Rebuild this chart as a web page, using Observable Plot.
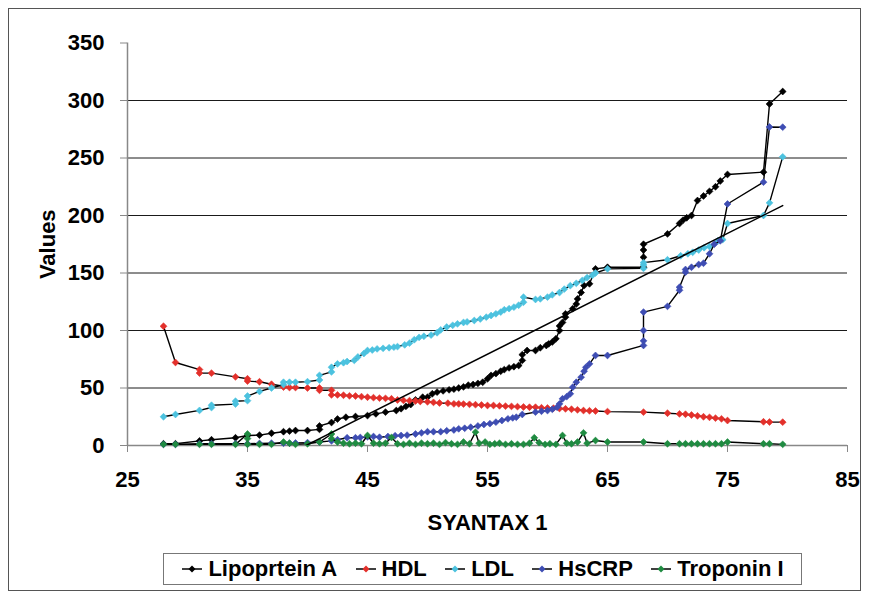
<!DOCTYPE html>
<html><head><meta charset="utf-8">
<script src="https://cdn.jsdelivr.net/npm/d3@7"></script>
<script src="https://cdn.jsdelivr.net/npm/@observablehq/plot@0.6"></script>
<style>
body{margin:0;background:#fff;}
#wrap{position:relative;width:871px;height:597px;overflow:hidden;font-family:"Liberation Sans",Arial,sans-serif;}
#frame{position:absolute;left:8px;top:8px;width:853px;height:583px;border:1px solid #555;box-sizing:border-box;}
#chart{position:absolute;left:0;top:0;}
#legend{position:absolute;left:163px;top:553px;width:639px;height:32px;border:1px solid #777;box-sizing:border-box;display:flex;align-items:center;justify-content:space-evenly;font-weight:bold;font-size:22px;}
.item{display:flex;align-items:center;white-space:nowrap;gap:5px;}
</style></head><body>
<div id="wrap"><div id="frame"></div><div id="chart"></div><div id="legend"></div></div>
<script>
// ---- data ----
const seriesNames = ["Lipoprtein A", "HDL", "LDL", "HsCRP", "Troponin I"];
const seriesColors = ["#000000", "#e3302b", "#4cc2df", "#3e4db3", "#1f8b41"];
const xTicks = [25, 35, 45, 55, 65, 75, 85];
const yTicks = [0, 50, 100, 150, 200, 250, 300, 350];
const gridValues = [50, 100, 150, 200, 250, 300];

const lipoproteinA = [[28,1.5],[29,1.5],[31,4],[32,5],[34,6.7],[35,8.7],[36,9],[37,10.7],[38,12],[38.5,12.5],[39,13],[40,13],[41,14],[41,17],[42,20],[42.5,23],[43.2,24.6],[44,25.2],[45,26],[45.7,27.5],[46.5,29],[47.4,30.4],[47.8,32],[48.2,34],[48.6,35.6],[49,39.7],[49.6,42],[50,42],[50.4,45],[50.8,46.4],[51.3,47.5],[51.8,48.4],[52.2,49],[52.6,50],[53,51],[53.4,52.5],[53.8,53],[54.2,54],[54.6,55],[55,58],[55.3,61],[55.7,62.5],[56.1,64.6],[56.4,66],[56.8,67.5],[57.2,68.5],[57.6,69.6],[57.9,74],[57.9,79],[58.3,82.6],[59,82.6],[59.4,85],[59.9,87],[60.1,88.4],[60.4,90],[60.7,92.8],[61,100],[61,104],[61.25,107],[61.5,111.6],[61.5,114.5],[62.1,119],[62.4,123],[62.5,127.5],[62.8,133],[63.05,139],[63.5,140.6],[64,153.6],[65,155],[68,155],[68,163.7],[68,170],[68,175],[70,184],[71,193],[71.3,196],[71.6,198],[72,200],[72.5,213],[73,217],[73.5,221],[74,225],[74.4,230],[75,235.7],[78,237.7],[78.5,297],[79.6,307.8]];

const hdl = [[28,103.7],[29,72.2],[31,66],[31,63],[32,62.9],[34,59.7],[35,58],[35,56],[36,55.4],[37,53.3],[38,51.5],[38,50.8],[38.5,50.4],[39,50.4],[40,50],[41,50],[41,48],[42,48],[42,44],[42.5,44],[43,43.7],[43.5,43.2],[44,43],[44.5,42.5],[45,42],[45.5,41.6],[46,41.2],[46.5,41],[47,40.6],[47.5,39.6],[48,39.2],[48.5,39],[49,38.7],[49.4,38.3],[50,38],[50.5,37.5],[51,37],[51.7,36.8],[52.2,36.2],[52.6,36.2],[53,36],[53.5,35.8],[54,35.5],[54.5,35.2],[55,34.8],[55.5,34.8],[56,34.5],[56.5,34.2],[57,34],[57.5,33.8],[58,33.5],[58.5,33.3],[59,33.3],[59.5,32.8],[60,32.6],[60.5,32.4],[61,32.2],[61.5,31.9],[62,31.5],[62.5,31],[63,30.4],[63.5,30.2],[64,30],[65,29.5],[68,29],[70,28.1],[71,27.5],[71.5,27.2],[72,26.5],[72.5,25.8],[73,25],[73.5,24.5],[74,23.8],[74.5,23.2],[75,21.7],[78,20.6],[78.5,20.4],[79.6,20.3]];

const ldl = [[28,25],[29,27],[31,30.5],[32,33],[32,35],[34,36],[34,38.5],[35,39],[35,43],[36,47],[37,50],[38,53],[38,55],[38.5,55],[39,55],[40,55.5],[41,57],[41,61],[42,64],[42,68],[42.5,71],[43,72],[43.3,73],[43.9,74],[44.2,77],[44.7,80],[45,82.6],[45.4,83],[45.8,84],[46.3,84.5],[46.8,85],[47.2,85.5],[47.5,86],[48.1,87.5],[48.5,89],[48.9,92],[49.3,94],[49.7,95],[50.3,96],[50.8,98],[51.1,100.5],[51.6,103],[52.1,104.5],[52.5,105.8],[53,107],[53.3,107.5],[53.9,108.7],[54.4,110],[54.9,111.6],[55.3,113],[55.7,114.5],[56.1,116],[56.4,118],[56.8,119],[57.2,120.3],[57.6,122],[58,124.6],[58,129],[59,127],[59.4,127.5],[60,129],[60.4,131],[61,133],[61.4,136],[61.9,139],[62.4,141],[62.9,143.5],[63.3,146],[63.75,148],[64,150],[65,153.6],[68,154],[68,157],[68,159],[70,161.5],[71.1,165],[71.7,166.7],[72.1,168],[72.6,170],[73.05,172],[73.5,173],[74.2,178],[74.6,179],[75,193],[78,200],[78.5,211],[79.6,251]];

const hsCRP = [[28,1],[29,1],[31,1.5],[32,1.5],[34,1.5],[35,1.5],[36,1.8],[37,2],[38,2],[38.5,2],[39,2.2],[40,2.5],[41,3],[42,4],[42.5,5],[43.3,6.7],[44,6.7],[44.4,7],[45,7.5],[45.5,7.8],[46,7.2],[46.7,7.8],[47.3,8.5],[47.8,8.7],[48.3,9],[49,10],[49.5,11],[50,12],[50.5,12],[51.1,12],[51.6,12.8],[52.2,13.5],[52.6,14.5],[53.1,15],[53.6,15.9],[54.2,17],[54.7,18.3],[55.2,19],[55.7,20.3],[56.2,21.7],[56.7,23.2],[57.1,24],[57.4,24.6],[57.9,27],[59,29],[59.5,29.8],[60,30.4],[60.4,31.5],[60.8,33.3],[61,36.2],[61.25,40.6],[61.6,42.5],[61.9,45],[62.1,50.7],[62.4,55],[62.8,59.4],[63.05,64.6],[63.2,68],[63.5,71],[64,78.3],[65,78.3],[68,87],[68,91],[68,100],[68,116],[70,121],[71,135],[71,137.6],[71.5,150.7],[71.5,153],[72,155],[72.6,157.4],[73,158.5],[73.5,166.7],[73.9,175],[74.4,178],[75,210],[78,229],[78.5,277],[79.6,276.8]];

const troponinI = [[28,1],[29,1],[31,1],[32,1],[34,1],[35,10],[35,6],[35,1],[36,1],[37,1],[38,3],[38.5,2],[39,1],[40,1.5],[41,3],[42,10],[42,6],[42.5,3],[43,2],[43.5,1.5],[44,2],[44.5,1.5],[45,8.7],[45.5,2],[46,1.5],[46.5,2],[47,7],[47.5,1.5],[48,1],[48.5,2],[49,1],[49.5,2],[50,1.5],[50.5,2],[51,1],[51.5,2.5],[52,1.5],[52.5,1],[53,3],[53.5,1.5],[54,11.6],[54.3,2],[54.8,3],[55.2,1],[55.6,1.5],[56,2],[56.5,1],[57,1.5],[57.5,1],[58,1],[58.5,2],[58.9,6.7],[59.3,2.5],[59.8,1],[60.2,1.5],[60.7,1],[61.25,8.7],[61.6,2],[62,1.5],[62.5,3],[63,11],[63.3,2],[64,4.3],[65,3],[68,3],[70,1.5],[71,1.5],[71.5,1.5],[72,1.5],[72.5,1.5],[73,1.5],[73.5,1.5],[74,1.5],[74.5,1.5],[75,3],[78,1.5],[78.5,1.5],[79.6,1]];

// linear trendline of Lipoprtein A
const trendSlope = 5.25;
const trendIntercept = -209.3;

// ---- chart ----
const seriesData = [lipoproteinA, hdl, ldl, hsCRP, troponinI];
const FONT = '"Liberation Sans", Arial, sans-serif';
const FS = 22;
const trendXs = d3.extent(lipoproteinA, d => d[0]);
const trend = trendXs.map(x => ({x, y: trendSlope * x + trendIntercept}));

const seriesMarks = [];
seriesData.forEach((data, i) => {
  seriesMarks.push(Plot.line(data, {x: d => d[0], y: d => d[1], stroke: "#000", strokeWidth: 1.4}));
  seriesMarks.push(Plot.dot(data, {x: d => d[0], y: d => d[1], symbol: "diamond2", r: 3.1, fill: seriesColors[i], stroke: seriesColors[i], strokeWidth: 0.6}));
});

const chart = Plot.plot({
  width: 871, height: 545,
  marginLeft: 127, marginRight: 24, marginTop: 42.5, marginBottom: 100,
  x: {domain: [25, 85]},
  y: {domain: [0, 350]},
  style: {fontFamily: FONT, fontWeight: "bold", fontSize: FS + "px", color: "#000", background: "transparent"},
  marks: [
    Plot.ruleY(gridValues, {stroke: "#1a1a1a", strokeWidth: 1}),
    Plot.axisY(yTicks, {tickSize: 7, tickPadding: 16, stroke: "#888", label: null, fontSize: FS, fontWeight: "bold", fill: "#000"}),
    Plot.axisX(xTicks, {tickSize: 7, tickPadding: 19, stroke: "#888", label: null, fontSize: FS, fontWeight: "bold", fill: "#000"}),
    Plot.ruleX([25], {stroke: "#888", strokeWidth: 1.5}),
    Plot.ruleY([0], {stroke: "#888", strokeWidth: 1.5}),
    ...seriesMarks,
    Plot.line(trend, {x: "x", y: "y", stroke: "#000", strokeWidth: 1.5, clip: true}),
    Plot.text(["Values"], {text: d => d, frameAnchor: "left", dx: -80, rotate: -90, textAnchor: "middle", lineAnchor: "middle", fontSize: FS, fontWeight: "bold", fill: "#000"}),
    Plot.text(["SYANTAX 1"], {text: d => d, frameAnchor: "bottom", dy: 77, textAnchor: "middle", lineAnchor: "middle", fontSize: FS, fontWeight: "bold", fill: "#000"})
  ]
});
document.getElementById("chart").appendChild(chart);

// ---- legend ----
const legend = document.getElementById("legend");
seriesNames.forEach((name, i) => {
  const item = document.createElement("div");
  item.className = "item";
  item.innerHTML = `<svg width="22" height="12"><line x1="1" y1="6" x2="21" y2="6" stroke="#000" stroke-width="1.5"/><path d="M11,2.5L14.5,6L11,9.5L7.5,6Z" fill="${seriesColors[i]}"/></svg><span>${name}</span>`;
  legend.appendChild(item);
});
</script>
</body></html>
